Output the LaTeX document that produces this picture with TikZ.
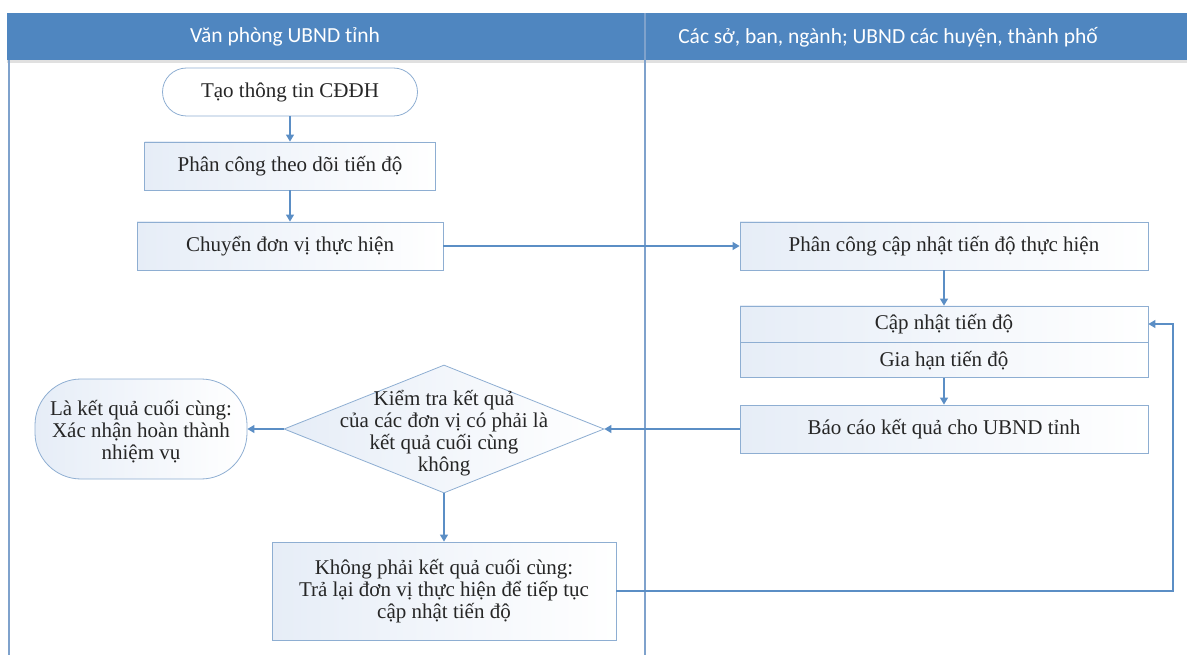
\documentclass[tikz,border=0pt]{standalone}
\usepackage{fontspec}
\setmainfont{Liberation Serif}
\newfontfamily\hdrfont{Carlito}
\usetikzlibrary{shapes.geometric,arrows.meta}
\definecolor{hdr}{HTML}{4F86C0}
\definecolor{edgec}{HTML}{8EAED2}
\definecolor{arr}{HTML}{5B8EC5}
\definecolor{lanec}{HTML}{7FA2CC}
\definecolor{boxl}{HTML}{E6EDF7}
\begin{document}
\begin{tikzpicture}[x=1pt,y=-1pt,
  box/.style={draw=edgec, line width=0.8pt, left color=boxl, right color=white,
    font=\fontsize{21}{22}\selectfont, text=black!85, align=center, inner sep=0pt},
  term/.style={box, left color=white, right color=white},
  conn/.style={draw=arr, line width=1.1pt, -{Triangle[length=7pt,width=8pt]}},
  hdrtext/.style={text=white, font=\hdrfont\fontsize{21.5}{24}\selectfont}]
\useasboundingbox (0,0) rectangle (1187,655);
% header
\fill[black!12] (7,60) rectangle (1187,63);
\fill[hdr] (7,13) rectangle (1187,60);
\draw[lanec, line width=1.2pt] (9,60) -- (9,655);
\draw[lanec, line width=1.2pt] (645,13) -- (645,655);
\node[hdrtext] (h1) at (285,37) {Văn phòng UBND tỉnh};
\node[hdrtext] (h2) at (888,37) {Các sở, ban, ngành; UBND các huyện, thành phố};
% left lane
\node[term, minimum width=255, minimum height=48, rounded corners=24pt] (start) at (290,92) {Tạo thông tin CĐĐH};
\node[box, minimum width=291, minimum height=48] (pc) at (290,166) {Phân công theo dõi tiến độ};
\node[box, minimum width=306, minimum height=48] (cd) at (290,246) {Chuyển đơn vị thực hiện};
\node[box, shape=diamond, minimum width=320, minimum height=128] (dm) at (444,429)
  {\makebox[0pt]{\smash{\raisebox{-10pt}{\begin{tabular}{@{}c@{}}Kiểm tra kết quả\\ của các đơn vị có phải là\\ kết quả cuối cùng\\ không\end{tabular}}}}};
\node[box, minimum width=212, minimum height=100, rounded corners=46pt] (done) at (141,429)
  {\makebox[0pt]{\smash{\raisebox{-9pt}{\begin{tabular}{@{}c@{}}Là kết quả cuối cùng:\\ Xác nhận hoàn thành\\ nhiệm vụ\end{tabular}}}}};
\node[box, minimum width=344, minimum height=98] (kp) at (444,591)
  {Không phải kết quả cuối cùng:\\ Trả lại đơn vị thực hiện để tiếp tục\\ cập nhật tiến độ};
% right lane
\node[box, minimum width=408, minimum height=48] (pcu) at (944,246) {Phân công cập nhật tiến độ thực hiện};
\node[box, minimum width=408, minimum height=36] (cn) at (944,324) {Cập nhật tiến độ};
\node[box, minimum width=408, minimum height=35, anchor=north] (gh) at (cn.south) {Gia hạn tiến độ};
\node[box, minimum width=408, minimum height=48] (bc) at (944,429) {Báo cáo kết quả cho UBND tỉnh};
\coordinate (loopx) at (1173,0);
% connectors
\draw[conn] (start) -- (pc);
\draw[conn] (pc) -- (cd);
\draw[conn] (cd) -- (pcu);
\draw[conn] (pcu) -- (cn);
\draw[conn] (gh) -- (bc);
\draw[conn] (bc) -- (dm.east);
\draw[conn] (dm.west) -- (done);
\draw[conn] (dm.south) -- (kp);
\draw[conn] (kp.east) -- (kp.east -| loopx) |- (cn.east);
\end{tikzpicture}
\end{document}
